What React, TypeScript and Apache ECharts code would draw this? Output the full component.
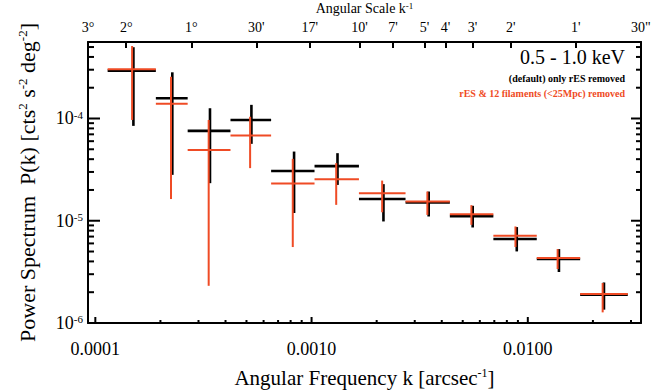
import React, { useEffect, useRef } from 'react';
import * as echarts from 'echarts';

// Bin edges and centers (Angular Frequency k, arcsec^-1)
const kLow = [1.14e-4, 1.905e-4, 2.673e-4, 4.217e-4, 6.5e-4, 1.032e-3, 1.656e-3, 2.72e-3, 4.36e-3, 6.93e-3, 1.1e-2, 1.746e-2];
const kHigh = [1.905e-4, 2.673e-4, 4.217e-4, 6.5e-4, 1.032e-3, 1.656e-3, 2.72e-3, 4.36e-3, 6.93e-3, 1.1e-2, 1.746e-2, 2.9e-2];
const kCenter = [1.5e-4, 2.27e-4, 3.39e-4, 5.27e-4, 8.3e-4, 1.318e-3, 2.15e-3, 3.48e-3, 5.56e-3, 8.89e-3, 1.393e-2, 2.25e-2];

// (default) only rES removed
const pDefault = [2.94e-4, 1.58e-4, 7.57e-5, 9.68e-5, 3.07e-5, 3.42e-5, 1.63e-5, 1.51e-5, 1.11e-5, 6.62e-6, 4.22e-6, 1.89e-6];
const pDefaultHi = [4.98e-4, 2.83e-4, 1.26e-4, 1.36e-4, 4.75e-5, 4.58e-5, 2.28e-5, 1.93e-5, 1.4e-5, 8.67e-6, 5.28e-6, 2.49e-6];
const pDefaultLo = [8.47e-5, 2.81e-5, 2.33e-5, 5.65e-5, 1.19e-5, 2.24e-5, 9.84e-6, 1.1e-5, 8.59e-6, 5.01e-6, 3.15e-6, 1.35e-6];

// rES & 12 filaments (<25Mpc) removed
const pFil = [3.03e-4, 1.39e-4, 4.93e-5, 6.81e-5, 2.31e-5, 2.55e-5, 1.86e-5, 1.54e-5, 1.16e-5, 7.13e-6, 4.32e-6, 1.92e-6];
const pFilHi = [5.12e-4, 2.56e-4, 9.68e-5, 1.04e-4, 4.03e-5, 3.66e-5, 2.47e-5, 1.93e-5, 1.42e-5, 8.79e-6, 5.28e-6, 2.46e-6];
const pFilLo = [9.68e-5, 1.63e-5, 2.31e-6, 3.27e-5, 5.53e-6, 1.43e-5, 1.21e-5, 1.14e-5, 9.12e-6, 5.53e-6, 3.37e-6, 1.27e-6];

// Axes
const xMin = 1 / 10812;
const xMax = 1 / 29.96;
const yMin = 0.9995e-6;
const yMax = 5.6e-4;
const xMajorTicks = [1e-4, 1e-3, 1e-2];
const xMinorTicks = [2e-4, 3e-4, 4e-4, 5e-4, 6e-4, 7e-4, 8e-4, 9e-4, 2e-3, 3e-3, 4e-3, 5e-3, 6e-3, 7e-3, 8e-3, 9e-3, 2e-2, 3e-2];
const yMajorTicks = [1e-6, 1e-5, 1e-4];
const yMinorTicks = [2e-6, 3e-6, 4e-6, 5e-6, 6e-6, 7e-6, 8e-6, 9e-6, 2e-5, 3e-5, 4e-5, 5e-5, 6e-5, 7e-5, 8e-5, 9e-5, 2e-4, 3e-4, 4e-4, 5e-4];
const angularLabels = ['3°', '2°', '1°', "30'", "17'", "10'", "7'", "5'", "4'", "3'", "2'", "1'", '30"'];
const angularArcsec = [10800, 7200, 3600, 1800, 1020, 600, 420, 300, 240, 180, 120, 60, 30];
const angularTickValues = angularArcsec.map((a) => 1 / a);

const FONT = "'Liberation Serif', 'DejaVu Serif', serif";
const BLACK = '#000000';
const RED = '#ef4b25';
const TICK_W = 2;

function buildData(p: number[], lo: number[], hi: number[]) {
  return kCenter.map((kc, i) => [kLow[i], kc, kHigh[i], lo[i], p[i], hi[i]]);
}

function crossRenderer(color: string, width: number, dx: number) {
  return (params: any, api: any) => {
    const kl = api.value(0);
    const kc = api.value(1);
    const kh = api.value(2);
    const pl = api.value(3);
    const p = api.value(4);
    const ph = api.value(5);
    const a = api.coord([kl, p]);
    const b = api.coord([kh, p]);
    const c = api.coord([kc, ph]);
    const d = api.coord([kc, pl]);
    return {
      type: 'group',
      children: [
        { type: 'line', shape: { x1: a[0], y1: a[1], x2: b[0], y2: b[1] }, style: { stroke: color, lineWidth: width } },
        { type: 'line', shape: { x1: c[0] + dx, y1: c[1], x2: d[0] + dx, y2: d[1] }, style: { stroke: color, lineWidth: width } },
      ],
    };
  };
}

// Inward tick marks along the bottom edge, placed by the x scale
function xTickRenderer(len: number) {
  return (params: any, api: any) => {
    const cs = params.coordSys;
    const x = api.coord([api.value(0), api.value(1)])[0];
    const yb = cs.y + cs.height;
    return { type: 'line', shape: { x1: x, y1: yb, x2: x, y2: yb - len }, style: { stroke: BLACK, lineWidth: TICK_W } };
  };
}

// Inward tick marks along the left and right edges, placed by the y scale
function yTickRenderer(lenLeft: number, lenRight: number) {
  return (params: any, api: any) => {
    const cs = params.coordSys;
    const y = api.coord([api.value(0), api.value(1)])[1];
    const xl = cs.x;
    const xr = cs.x + cs.width;
    return {
      type: 'group',
      children: [
        { type: 'line', shape: { x1: xl, y1: y, x2: xl + lenLeft, y2: y }, style: { stroke: BLACK, lineWidth: TICK_W } },
        { type: 'line', shape: { x1: xr, y1: y, x2: xr - lenRight, y2: y }, style: { stroke: BLACK, lineWidth: TICK_W } },
      ],
    };
  };
}

const AXIS_LINE = { show: true, onZero: false, lineStyle: { color: BLACK, width: 2 } };
const TICK_LINE = { color: BLACK, width: TICK_W };

export default function App() {
  const ref = useRef<HTMLDivElement>(null);
  useEffect(() => {
    if (!ref.current) return;
    const chart = echarts.init(ref.current, undefined, { renderer: 'svg' });
    const nameRich = (size: number, sup: number) => ({
      t: { fontFamily: FONT, fontSize: size, color: BLACK, verticalAlign: 'bottom' },
      s: { fontFamily: FONT, fontSize: sup, color: BLACK, verticalAlign: 'top' },
    });
    const tickSeries = (data: number[][], renderItem: any) => ({
      type: 'custom',
      xAxisIndex: 0,
      yAxisIndex: 0,
      renderItem,
      encode: { x: 0, y: 1 },
      data,
    });
    const option: any = {
      animation: false,
      backgroundColor: '#ffffff',
      grid: { left: 88, top: 42, width: 553, height: 281, containLabel: false, outerBoundsMode: 'none' },
      xAxis: [
        {
          type: 'log',
          position: 'bottom',
          min: xMin,
          max: xMax,
          axisLine: AXIS_LINE,
          axisTick: { show: false },
          splitLine: { show: false },
          axisLabel: {
            customValues: xMajorTicks,
            formatter: (v: number) => v.toFixed(4),
            color: BLACK,
            fontFamily: FONT,
            fontSize: 18,
            margin: 17,
          },
          name: '{t|Angular Frequency k [arcsec}{s|-1}{t|]}',
          nameLocation: 'middle',
          nameGap: 44,
          nameTextStyle: { rich: nameRich(21, 12) },
        },
        {
          type: 'log',
          position: 'top',
          min: xMin,
          max: xMax,
          axisLine: AXIS_LINE,
          axisTick: { show: true, inside: true, length: 6, lineStyle: TICK_LINE, customValues: angularTickValues },
          splitLine: { show: false },
          axisLabel: {
            customValues: angularTickValues,
            formatter: (v: number) => {
              const i = angularTickValues.findIndex((t) => Math.abs(t - v) / t < 1e-3);
              return i >= 0 ? angularLabels[i] : '';
            },
            showMinLabel: true,
            showMaxLabel: true,
            color: BLACK,
            fontFamily: FONT,
            fontSize: 14,
            margin: 8,
          },
          name: '{t|Angular Scale k}{s|-1}',
          nameLocation: 'middle',
          nameGap: 24,
          nameTextStyle: { rich: nameRich(14, 9) },
        },
      ],
      yAxis: [
        {
          type: 'log',
          position: 'left',
          min: yMin,
          max: yMax,
          axisLine: AXIS_LINE,
          axisTick: { show: false },
          splitLine: { show: false },
          axisLabel: {
            customValues: yMajorTicks,
            formatter: (v: number) => `{b|10}{s|${Math.round(Math.log10(v))}}`,
            rich: {
              b: { fontFamily: FONT, fontSize: 18, color: BLACK, verticalAlign: 'bottom' },
              s: { fontFamily: FONT, fontSize: 11, color: BLACK, verticalAlign: 'top' },
            },
            margin: 5,
            showMinLabel: true,
          },
          name: '{t|Power Spectrum  P(k) [cts}{s|2}{t| s}{s|-2}{t| deg}{s|-2}{t|]}',
          nameLocation: 'middle',
          nameGap: 50,
          nameTextStyle: { rich: nameRich(22, 13) },
        },
        {
          type: 'log',
          position: 'right',
          min: yMin,
          max: yMax,
          axisLine: AXIS_LINE,
          axisTick: { show: false },
          axisLabel: { show: false },
          splitLine: { show: false },
        },
      ],
      series: [
        tickSeries(xMajorTicks.map((v) => [v, 1e-5]), xTickRenderer(6)),
        tickSeries(xMinorTicks.map((v) => [v, 1e-5]), xTickRenderer(3)),
        tickSeries(yMajorTicks.map((v) => [1e-3, v]), yTickRenderer(12, 10)),
        tickSeries(yMinorTicks.map((v) => [1e-3, v]), yTickRenderer(6, 5)),
        {
          name: '(default) only rES removed',
          type: 'custom',
          xAxisIndex: 0,
          yAxisIndex: 0,
          renderItem: crossRenderer(BLACK, 2.6, 0),
          encode: { x: [0, 1, 2], y: [3, 4, 5] },
          data: buildData(pDefault, pDefaultLo, pDefaultHi),
          z: 3,
        },
        {
          name: 'rES & 12 filaments (<25Mpc) removed',
          type: 'custom',
          xAxisIndex: 0,
          yAxisIndex: 0,
          renderItem: crossRenderer(RED, 2, -1.3),
          encode: { x: [0, 1, 2], y: [3, 4, 5] },
          data: buildData(pFil, pFilLo, pFilHi),
          z: 4,
        },
      ],
      graphic: [
        {
          type: 'text',
          x: 625,
          y: 57,
          style: { text: '0.5 - 1.0 keV', fontFamily: FONT, fontSize: 20, fill: BLACK, align: 'right', verticalAlign: 'middle' },
        },
        {
          type: 'text',
          x: 625,
          y: 78,
          style: { text: '(default) only rES removed', fontFamily: FONT, fontSize: 10, fontWeight: 'bold', fill: BLACK, align: 'right', verticalAlign: 'middle' },
        },
        {
          type: 'text',
          x: 625,
          y: 93,
          style: { text: 'rES & 12 filaments (<25Mpc) removed', fontFamily: FONT, fontSize: 10, fontWeight: 'bold', fill: RED, align: 'right', verticalAlign: 'middle' },
        },
      ],
    };
    chart.setOption(option);
    return () => chart.dispose();
  }, []);
  return <div ref={ref} style={{ position: 'fixed', left: 0, top: 0, width: 661, height: 391, background: '#fff' }} />;
}
